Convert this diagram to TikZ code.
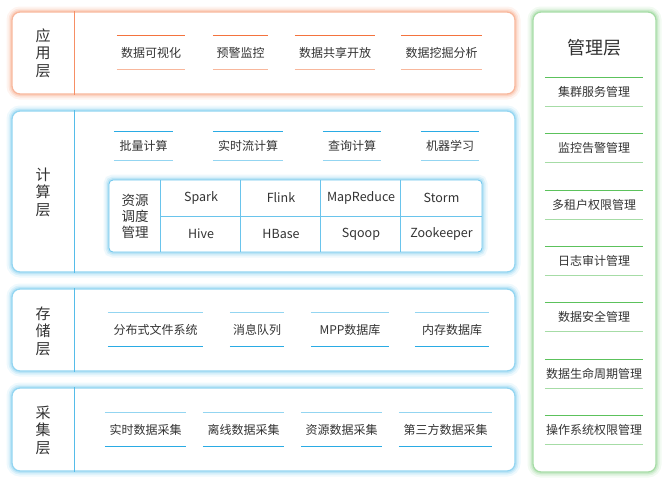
\documentclass[tikz,border=0pt]{standalone}
\usepackage{fontspec}
\setmainfont{Noto Sans CJK SC}
\usepackage{xcolor}
\usepackage{tikz}
\usetikzlibrary{positioning}
\definecolor{apporange}{HTML}{F4733E}
\definecolor{applight}{HTML}{F8B79C}
\definecolor{layblue}{HTML}{2AABE4}
\definecolor{laylight}{HTML}{93D5F1}
\definecolor{mgmtgreen}{HTML}{5CC25C}
\definecolor{mgmtlight}{HTML}{A6DCA6}
\definecolor{textgray}{HTML}{333333}

\begin{document}
\begin{tikzpicture}[
 x=1pt,y=-1pt,
 every node/.style={text=textgray},
 glow/.style={preaction={draw=#1,draw opacity=0.15,line width=11pt},
  preaction={draw=#1,draw opacity=0.25,line width=7pt},
  preaction={draw=#1,draw opacity=0.4,line width=4pt}},
 layer/.style={rounded corners=8pt,fill=white,line width=1.3pt,inner sep=0pt},
 laylabel/.style={align=center,font=\fontsize{15}{17.5}\selectfont},
 item/.style={minimum height=#1,inner sep=0pt,font=\fontsize{12}{14}\selectfont},
 cell/.style={minimum width=80pt,minimum height=36pt,inner sep=0pt,font=\fontsize{12.5}{14}\selectfont}
]
\useasboundingbox (0,0) rectangle (668,483);

% layers
\node[layer,draw=applight,glow=applight,minimum width=503pt,minimum height=82pt] (app) at (263.5,53) {};
\node[layer,draw=laylight,glow=laylight,minimum width=503pt,minimum height=161pt] (comp) at (263.5,191.5) {};
\node[layer,draw=laylight,glow=laylight,minimum width=503pt,minimum height=82pt] (store) at (263.5,330) {};
\node[layer,draw=laylight,glow=laylight,minimum width=503pt,minimum height=83pt] (coll) at (263.5,429.5) {};
\node[layer,draw=mgmtlight,glow=mgmtlight,minimum width=123pt,minimum height=460pt] (mgmt) at (594.5,242) {};

\draw[apporange!80,line width=0.9pt] ([xshift=63pt]app.north west) -- ([xshift=63pt]app.south west);
\draw[layblue!80,line width=0.9pt] ([xshift=63pt]comp.north west) -- ([xshift=63pt]comp.south west);
\draw[layblue!80,line width=0.9pt] ([xshift=63pt]store.north west) -- ([xshift=63pt]store.south west);
\draw[layblue!80,line width=0.9pt] ([xshift=63pt]coll.north west) -- ([xshift=63pt]coll.south west);

\node[laylabel] (appname) at (43,53) {应\\用\\层};
\node[laylabel] (compname) at (43,192) {计\\算\\层};
\node[laylabel] (storename) at (43,331) {存\\储\\层};
\node[laylabel] (collname) at (43,430) {采\\集\\层};
\node[font=\fontsize{18}{20}\selectfont] (mgmtname) at (594,48) {管理层};

% application layer
\foreach \n/\x/\w/\t in {a1/151/68/数据可视化,a2/240.5/55/预警监控,a3/335/80/数据共享开放,a4/441.5/81/数据挖掘分析}{
 \node[item=33pt,minimum width=\w pt] (\n) at (\x,52.5) {\t};
 \draw[apporange,line width=0.9pt] (\n.north west) -- (\n.north east);
 \draw[applight,line width=0.9pt] (\n.south west) -- (\n.south east);
}

% computing layer
\foreach \n/\x/\w/\t in {c1/143.5/59/批量计算,c2/248/70/实时流计算,c3/352/58/查询计算,c4/450/58/机器学习}{
 \node[item=28pt,minimum width=\w pt] (\n) at (\x,146) {\t};
 \draw[layblue,line width=0.9pt] (\n.north west) -- (\n.north east);
 \draw[laylight,line width=0.9pt] (\n.south west) -- (\n.south east);
}

\node[rounded corners=4pt,draw=layblue!70,glow=laylight,fill=white,line width=0.8pt,
 minimum width=373pt,minimum height=72pt,inner sep=0pt] (tbl) at (295.5,216) {};
\node[align=center,font=\fontsize{13.5}{16}\selectfont] (sched) at (135,216) {资源\\调度\\管理};
\node[cell] (spark) at (201,198) {Spark};
\node[cell] (flink) at (281,198) {Flink};
\node[cell] (mr) at (361,198) {MapReduce};
\node[cell,minimum width=81pt] (storm) at (441.5,198) {Storm};
\node[cell] (hive) at (201,234) {Hive};
\node[cell] (hbase) at (281,234) {HBase};
\node[cell] (sqoop) at (361,234) {Sqoop};
\node[cell,minimum width=81pt] (zk) at (441.5,234) {Zookeeper};
\draw[layblue!70,line width=0.8pt] (spark.north west) -- (hive.south west);
\draw[layblue!70,line width=0.8pt] (flink.north west) -- (hbase.south west);
\draw[layblue!70,line width=0.8pt] (mr.north west) -- (sqoop.south west);
\draw[layblue!70,line width=0.8pt] (storm.north west) -- (zk.south west);
\draw[layblue!70,line width=0.8pt] (spark.south west) -- (storm.south east);

% storage layer
\foreach \n/\x/\w/\t in {s1/155.5/95/分布式文件系统,s2/257/54/消息队列,s3/350/78/MPP数据库,s4/452/74/内存数据库}{
 \node[item=33pt,minimum width=\w pt] (\n) at (\x,329.5) {\t};
 \draw[laylight,line width=0.9pt] (\n.north west) -- (\n.north east);
 \draw[layblue,line width=0.9pt] (\n.south west) -- (\n.south east);
}

% collection layer
\foreach \n/\x/\w/\t in {g1/145.5/81/实时数据采集,g2/243.5/81/离线数据采集,g3/341.5/81/资源数据采集,g4/445.5/93/第三方数据采集}{
 \node[item=33pt,minimum width=\w pt] (\n) at (\x,429.5) {\t};
 \draw[laylight,line width=0.9pt] (\n.north west) -- (\n.north east);
 \draw[layblue,line width=0.9pt] (\n.south west) -- (\n.south east);
}

% management
\foreach \n/\y/\t in {m1/92/集群服务管理,m2/148/监控告警管理,m3/205/多租户权限管理,m4/261/日志审计管理,m5/317/数据安全管理,m6/374/数据生命周期管理,m7/430/操作系统权限管理}{
 \node[item=28pt,minimum width=98pt] (\n) at (594,\y) {\t};
 \draw[mgmtgreen,line width=0.9pt] (\n.north west) -- (\n.north east);
 \draw[mgmtlight,line width=0.9pt] (\n.south west) -- (\n.south east);
}
\end{tikzpicture}
\end{document}
